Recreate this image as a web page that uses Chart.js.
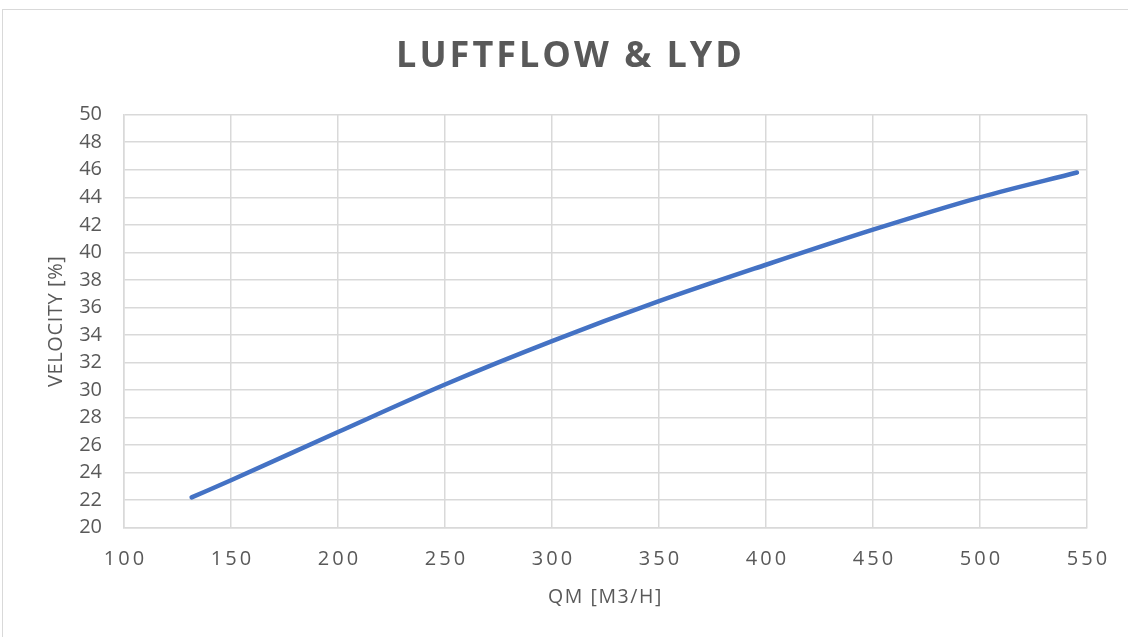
<!DOCTYPE html>
<html>
<head>
<meta charset="utf-8">
<script src="https://cdn.jsdelivr.net/npm/chart.js@4/dist/chart.umd.min.js"></script>
<style>
  html, body { margin: 0; padding: 0; background: #fff; overflow: hidden; }
  #wrap { position: relative; width: 1128px; height: 637px; overflow: hidden; }
  #frame { position: absolute; left: 2px; top: 9px; width: 1200px; height: 700px; border: 1px solid #d9d9d9; box-sizing: border-box; }
  canvas { position: absolute; left: 0; top: 0; }
</style>
</head>
<body>
<div id="wrap">
  <div id="frame"></div>
  <canvas id="c" width="1128" height="637"></canvas>
</div>
<script>
// ---- data ----
const chartTitle = "LUFTFLOW & LYD";
const xAxisTitle = "QM [M3/H]";
const yAxisTitle = "VELOCITY [%]";
const flowValues = [131.6, 150, 200, 250, 300, 350, 400, 450, 500, 545.3];
const velocityValues = [22.2, 23.45, 26.95, 30.4, 33.55, 36.45, 39.1, 41.65, 44.0, 45.8];
const xTickRange = [100, 550, 50];   // min, max, step
const yTickRange = [20, 50, 2];      // min, max, step

const points = flowValues.map((x, i) => ({ x: x, y: velocityValues[i] }));

const textColor = '#595959';
const gridColor = '#d9d9d9';
const FONT = "'Open Sans', 'Liberation Sans', sans-serif";

function withSpacing(obj, name, spacing, dx) {
  const orig = obj[name].bind(obj);
  obj[name] = function (a) {
    const c = this.ctx;
    c.save();
    c.letterSpacing = spacing;
    if (dx) c.translate(dx, 0);
    orig(a);
    c.restore();
  };
}

const spacingPlugin = {
  id: 'spacing',
  beforeDraw(chart) {
    const tb = chart.titleBlock;
    if (tb && !tb._ls) { withSpacing(tb, 'draw', '3px', 27); tb._ls = true; }
    const xs = chart.scales.x;
    if (xs && !xs._ls) {
      withSpacing(xs, 'drawLabels', '3px', 1.5);
      withSpacing(xs, 'drawTitle', '1.6px', 0);
      xs._ls = true;
    }
    const ys = chart.scales.y;
    if (ys && !ys._ls) {
      withSpacing(ys, 'drawTitle', '0.6px', 0);
      ys._ls = true;
    }
  }
};

new Chart(document.getElementById('c'), {
  type: 'line',
  data: {
    datasets: [{
      data: points,
      borderColor: '#4472c4',
      borderWidth: 4.5,
      borderCapStyle: 'round',
      borderJoinStyle: 'round',
      pointRadius: 0,
      cubicInterpolationMode: 'monotone',
      fill: false
    }]
  },
  options: {
    responsive: false,
    animation: false,
    devicePixelRatio: 1,
    layout: { padding: { left: 0, right: 41, top: 0, bottom: 0 } },
    plugins: {
      legend: { display: false },
      tooltip: { enabled: false },
      title: {
        display: true,
        text: chartTitle,
        color: textColor,
        font: { family: FONT, size: 36, weight: 'bold', lineHeight: 1.2 },
        padding: { top: 35, bottom: 36.5 }
      }
    },
    scales: {
      x: {
        type: 'linear',
        min: xTickRange[0],
        max: xTickRange[1],
        ticks: { stepSize: xTickRange[2], color: textColor, font: { family: FONT, size: 20 }, padding: 20, maxRotation: 0, autoSkip: false },
        grid: { color: gridColor, lineWidth: 1.5, drawTicks: false },
        border: { color: gridColor, width: 1.5 },
        title: { display: true, text: xAxisTitle, color: textColor, font: { family: FONT, size: 19.5, lineHeight: 1.2 }, padding: { top: 0, bottom: 27.5 } },
        afterFit(scale) { scale.height = 109.3; }
      },
      y: {
        min: yTickRange[0],
        max: yTickRange[1],
        ticks: { stepSize: yTickRange[2], color: textColor, font: { family: FONT, size: 20 }, padding: 22, autoSkip: false },
        grid: { color: gridColor, lineWidth: 1.5, drawTicks: false },
        border: { color: gridColor, width: 1.5 },
        title: { display: true, text: yAxisTitle, color: textColor, font: { family: FONT, size: 20, lineHeight: 1.2 }, padding: { top: 44, bottom: 0 } },
        afterFit(scale) { scale.width = 124; }
      }
    }
  },
  plugins: [spacingPlugin]
});
</script>
</body>
</html>
